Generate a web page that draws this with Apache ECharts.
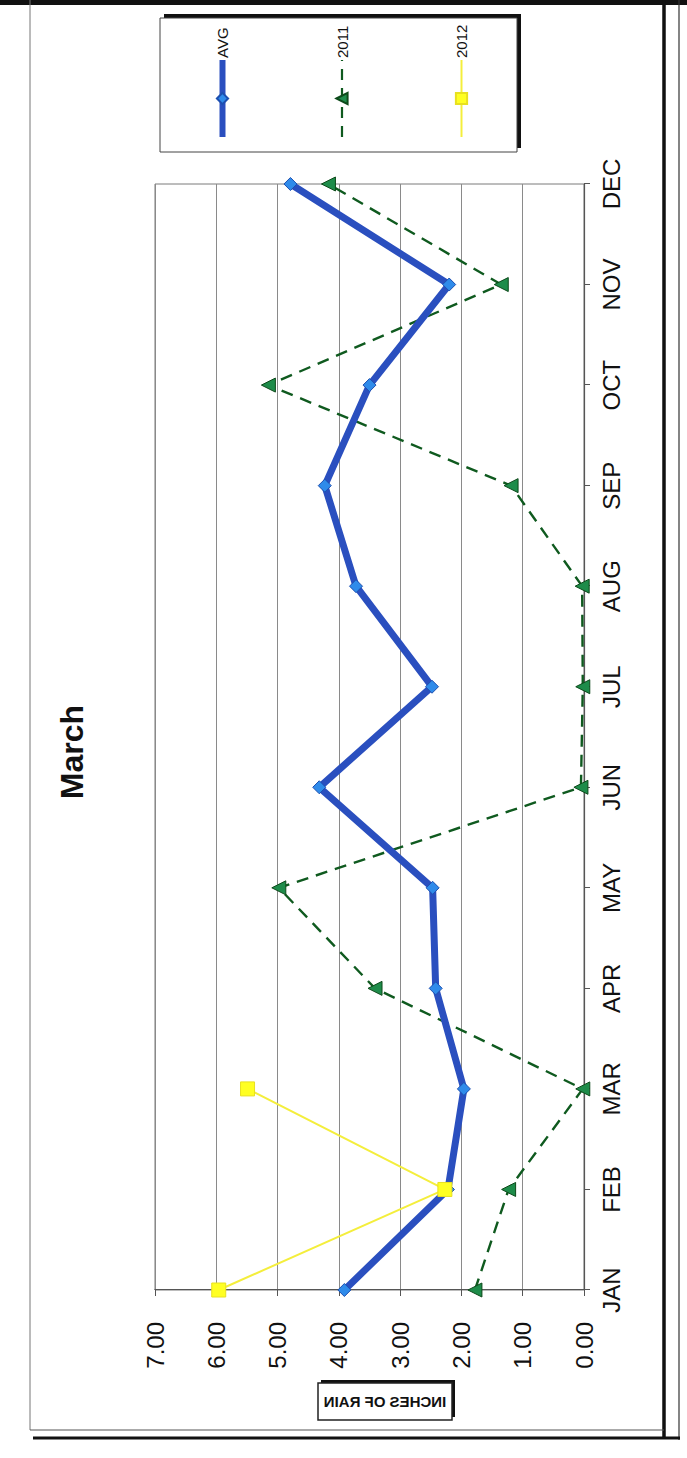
<!DOCTYPE html>
<html><head><meta charset="utf-8">
<script src="https://cdn.jsdelivr.net/npm/echarts@6/dist/echarts.min.js"></script>
<style>
html,body{margin:0;padding:0;background:#fff;width:687px;height:1458px;overflow:hidden;}
#wrap{position:absolute;left:0;top:0;width:1458px;height:687px;transform-origin:0 0;transform:translateY(1458px) rotate(-90deg);}
#chart{width:1458px;height:687px;}
</style></head><body><div id="wrap"><div id="chart"></div></div>
<script>
const months = ['JAN','FEB','MAR','APR','MAY','JUN','JUL','AUG','SEP','OCT','NOV','DEC'];
const avg   = [3.91, 2.22, 1.96, 2.42, 2.47, 4.32, 2.48, 3.72, 4.23, 3.50, 2.20, 4.79];
const y2011 = [1.78, 1.23, 0.02, 3.41, 4.98, 0.05, 0.02, 0.03, 1.19, 5.15, 1.35, 4.17];
const y2012 = [5.96, 2.27, 5.49, null, null, null, null, null, null, null, null, null];
const valueMin = 0, valueMax = 7, valueStep = 1;

const FONT = '"Liberation Sans", Arial, sans-serif';
const chart = echarts.init(document.getElementById('chart'), null, {renderer: 'svg'});
chart.setOption({
  backgroundColor: '#fff',
  animation: false,
  grid: {left: 168, right: 184, top: 155, bottom: 103, show: true, borderColor: '#7a7a7a', borderWidth: 1, backgroundColor: '#fff'},
  legend: {
    orient: 'vertical', left: 1313, top: 210, itemWidth: 77, itemHeight: 14, itemGap: 104.5, z: 5,
    textStyle: {fontFamily: FONT, fontSize: 15, color: '#111', padding: [0,0,0,-3]},
    data: [
      {name: 'AVG', lineStyle: {width: 6, color: '#2a4fbf'}},
      {name: '2011', lineStyle: {width: 2.2, color: '#0f5a1f', type: [11, 8]}},
      {name: '2012', lineStyle: {width: 2, color: '#f4ee3c'}}
    ]
  },
  xAxis: {
    type: 'category', data: months, boundaryGap: false,
    axisLine: {lineStyle: {color: '#555', width: 1.2}},
    axisTick: {show: true, length: 6, interval: 0, lineStyle: {color: '#555'}},
    axisLabel: {fontFamily: FONT, fontSize: 24, color: '#111', margin: 15, interval: 0},
    splitLine: {show: false}
  },
  yAxis: {
    type: 'value', min: valueMin, max: valueMax, interval: valueStep,
    axisLine: {show: true, lineStyle: {color: '#555', width: 1.2}},
    axisTick: {show: true, length: 6, lineStyle: {color: '#555'}},
    axisLabel: {fontFamily: FONT, fontSize: 24, color: '#111', margin: 32, formatter: v => v.toFixed(2)},
    splitLine: {show: true, lineStyle: {color: '#8a8a8a', width: 1}}
  },
  series: [
    {name: 'AVG', type: 'line', data: avg, z: 4,
     lineStyle: {color: '#2a4fbf', width: 7},
     itemStyle: {color: '#2f8bea', borderColor: '#1d4fb0', borderWidth: 1},
     symbol: 'diamond', symbolSize: 13, showAllSymbol: true},
    {name: '2011', type: 'line', data: y2011, z: 3,
     lineStyle: {color: '#0f5a1f', width: 2.4, type: [12, 8]},
     itemStyle: {color: '#1e8c4a', borderColor: '#0d4a1a', borderWidth: 1},
     symbol: 'triangle', symbolSize: 14, showAllSymbol: true},
    {name: '2012', type: 'line', data: y2012, z: 5,
     lineStyle: {color: '#f4ee3c', width: 2},
     itemStyle: {color: '#ffff22', borderColor: '#e8e020', borderWidth: 1},
     symbol: 'rect', symbolSize: 14, showAllSymbol: true}
  ],
  graphic: [
    {type: 'text', x: 706, y: 72, z: 10, style: {text: 'March', font: 'bold 32px ' + FONT, fill: '#111', textAlign: 'center', textVerticalAlign: 'middle'}},
    {type: 'rect', z: 1, shape: {x: 1310, y: 164, width: 134, height: 357}, style: {fill: '#111'}},
    {type: 'rect', z: 2, shape: {x: 1306, y: 160, width: 134, height: 357}, style: {fill: '#fff', stroke: '#444', lineWidth: 1}},
    {type: 'rect', z: 1, shape: {x: 41, y: 321, width: 37, height: 134}, style: {fill: '#111'}},
    {type: 'rect', z: 2, shape: {x: 38, y: 318, width: 37, height: 134}, style: {fill: '#fff', stroke: '#222', lineWidth: 1.5}},
    {type: 'text', z: 3, x: 56.5, y: 385, scaleX: -1, rotation: -Math.PI / 2,
     style: {text: 'INCHES OF RAIN', font: 'bold 15px ' + FONT, fill: '#111', textAlign: 'center', textVerticalAlign: 'middle'}},
    {type: 'line', z: 20, shape: {x1: 1455.5, y1: 0, x2: 1455.5, y2: 687}, style: {stroke: '#111', lineWidth: 5}},
    {type: 'line', z: 20, shape: {x1: 21, y1: 664, x2: 1458, y2: 664}, style: {stroke: '#111', lineWidth: 3.5}},
    {type: 'line', z: 20, shape: {x1: 18, y1: 679, x2: 1458, y2: 679}, style: {stroke: '#333', lineWidth: 1.2}},
    {type: 'line', z: 20, shape: {x1: 28, y1: 30, x2: 1458, y2: 30}, style: {stroke: '#777', lineWidth: 1}},
    {type: 'line', z: 20, shape: {x1: 28, y1: 30, x2: 28, y2: 664}, style: {stroke: '#555', lineWidth: 1}},
    {type: 'line', z: 20, shape: {x1: 20, y1: 33, x2: 20, y2: 680}, style: {stroke: '#111', lineWidth: 3}}
  ]
});
</script></body></html>
